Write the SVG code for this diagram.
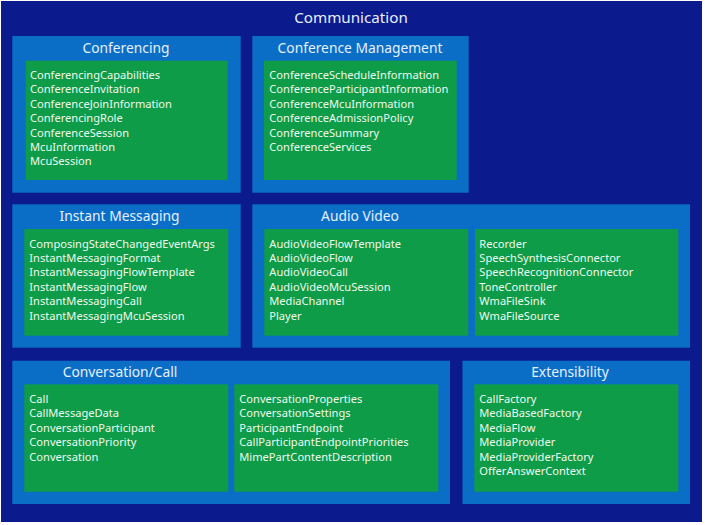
<svg xmlns="http://www.w3.org/2000/svg" width="705" height="525" viewBox="0 0 705 525">
<style>
.outer{fill:#0b1a8c}
.pkg{fill:#0b6ec6}
.inner{fill:#0e9c48}
.ttl{font-family:"Noto Sans","Open Sans",sans-serif;font-size:13.8px;fill:#e6f0ff;text-anchor:middle}
.main{font-family:"Noto Sans","Open Sans",sans-serif;font-size:15.2px;fill:#e6f0ff;text-anchor:middle}
.item{font-family:"Noto Sans","Open Sans",sans-serif;font-size:11.1px;fill:#eef8ee}
</style>
<rect x="0" y="0" width="705" height="525" fill="#ffffff"/>
<g id="communication">
<rect class="outer" x="1" y="1" width="701" height="521"/>
<text class="main" x="351" y="23">Communication</text>
</g>
<g id="conferencing">
<rect class="pkg" x="12.3" y="36" width="228.4" height="156.7"/>
<text class="ttl" x="126" y="53">Conferencing</text>
<rect class="inner" x="25.7" y="60.7" width="202" height="119.3"/>
<text class="item" x="30" y="79">ConferencingCapabilities</text>
<text class="item" x="30" y="93.4">ConferenceInvitation</text>
<text class="item" x="30" y="107.8">ConferenceJoinInformation</text>
<text class="item" x="30" y="122.2">ConferencingRole</text>
<text class="item" x="30" y="136.6">ConferenceSession</text>
<text class="item" x="30" y="151">McuInformation</text>
<text class="item" x="30" y="165.4">McuSession</text>
</g>
<g id="conference-management">
<rect class="pkg" x="252.3" y="36" width="216.4" height="156.7"/>
<text class="ttl" x="360" y="53">Conference Management</text>
<rect class="inner" x="264" y="60.7" width="192.7" height="119.3"/>
<text class="item" x="269.3" y="79">ConferenceScheduleInformation</text>
<text class="item" x="269.3" y="93.4">ConferenceParticipantInformation</text>
<text class="item" x="269.3" y="107.8">ConferenceMcuInformation</text>
<text class="item" x="269.3" y="122.2">ConferenceAdmissionPolicy</text>
<text class="item" x="269.3" y="136.6">ConferenceSummary</text>
<text class="item" x="269.3" y="151">ConferenceServices</text>
</g>
<g id="instant-messaging">
<rect class="pkg" x="12.3" y="204.3" width="228.4" height="143.4"/>
<text class="ttl" x="119.5" y="221">Instant Messaging</text>
<rect class="inner" x="24.3" y="229" width="204" height="106.7"/>
<text class="item" x="29.3" y="247.5">ComposingStateChangedEventArgs</text>
<text class="item" x="29.3" y="261.9">InstantMessagingFormat</text>
<text class="item" x="29.3" y="276.3">InstantMessagingFlowTemplate</text>
<text class="item" x="29.3" y="290.7">InstantMessagingFlow</text>
<text class="item" x="29.3" y="305.1">InstantMessagingCall</text>
<text class="item" x="29.3" y="319.5">InstantMessagingMcuSession</text>
</g>
<g id="audio-video">
<rect class="pkg" x="252.3" y="204.3" width="437.7" height="143.4"/>
<text class="ttl" x="360" y="221">Audio Video</text>
<rect class="inner" x="264.3" y="229" width="204" height="106.7"/>
<text class="item" x="269.3" y="247.5">AudioVideoFlowTemplate</text>
<text class="item" x="269.3" y="261.9">AudioVideoFlow</text>
<text class="item" x="269.3" y="276.3">AudioVideoCall</text>
<text class="item" x="269.3" y="290.7">AudioVideoMcuSession</text>
<text class="item" x="269.3" y="305.1">MediaChannel</text>
<text class="item" x="269.3" y="319.5">Player</text>
<rect class="inner" x="475" y="229" width="203.3" height="106.7"/>
<text class="item" x="479.3" y="247.5">Recorder</text>
<text class="item" x="479.3" y="261.9">SpeechSynthesisConnector</text>
<text class="item" x="479.3" y="276.3">SpeechRecognitionConnector</text>
<text class="item" x="479.3" y="290.7">ToneController</text>
<text class="item" x="479.3" y="305.1">WmaFileSink</text>
<text class="item" x="479.3" y="319.5">WmaFileSource</text>
</g>
<g id="conversation-call">
<rect class="pkg" x="12.3" y="360.7" width="437.7" height="143.3"/>
<text class="ttl" x="120" y="377">Conversation/Call</text>
<rect class="inner" x="24.3" y="384.3" width="204" height="107.4"/>
<text class="item" x="29.3" y="403">Call</text>
<text class="item" x="29.3" y="417.4">CallMessageData</text>
<text class="item" x="29.3" y="431.8">ConversationParticipant</text>
<text class="item" x="29.3" y="446.2">ConversationPriority</text>
<text class="item" x="29.3" y="460.6">Conversation</text>
<rect class="inner" x="234.3" y="384.3" width="204" height="107.4"/>
<text class="item" x="239.3" y="403">ConversationProperties</text>
<text class="item" x="239.3" y="417.4">ConversationSettings</text>
<text class="item" x="239.3" y="431.8">ParticipantEndpoint</text>
<text class="item" x="239.3" y="446.2">CallParticipantEndpointPriorities</text>
<text class="item" x="239.3" y="460.6">MimePartContentDescription</text>
</g>
<g id="extensibility">
<rect class="pkg" x="462.5" y="360.7" width="227.5" height="143.3"/>
<text class="ttl" x="570" y="377">Extensibility</text>
<rect class="inner" x="474.3" y="384.3" width="204" height="107.4"/>
<text class="item" x="479.3" y="403">CallFactory</text>
<text class="item" x="479.3" y="417.4">MediaBasedFactory</text>
<text class="item" x="479.3" y="431.8">MediaFlow</text>
<text class="item" x="479.3" y="446.2">MediaProvider</text>
<text class="item" x="479.3" y="460.6">MediaProviderFactory</text>
<text class="item" x="479.3" y="475">OfferAnswerContext</text>
</g>
<g id="connectors"></g>
</svg>
